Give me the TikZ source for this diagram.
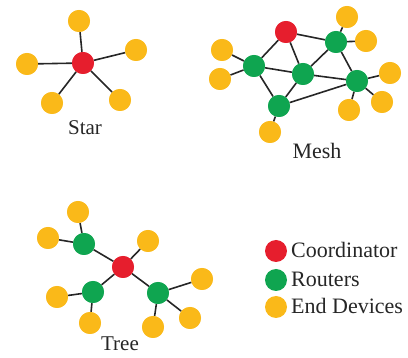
\documentclass[tikz,border=0pt]{standalone}
\usepackage{fontspec}
\setmainfont{Liberation Serif}
\definecolor{cred}{RGB}{230,30,45}
\definecolor{cgreen}{RGB}{15,165,80}
\definecolor{cyellow}{RGB}{250,185,25}
\begin{document}
\begin{tikzpicture}[x=1pt,y=-1pt,
  dev/.style={circle,fill=#1,minimum size=22pt,inner sep=0pt},
  coord/.style={dev=cred},
  rout/.style={dev=cgreen},
  endd/.style={dev=cyellow},
  lnk/.style={line width=1.6pt,black!85},
  lbl/.style={font=\fontsize{22}{24}\selectfont,inner sep=0pt,text=black!85}]
\useasboundingbox (0,0) rectangle (408,358);
% Star
\node[coord] (sc) at (83,63) {};
\node[endd] (s1) at (79,21) {};
\node[endd] (s2) at (136,50) {};
\node[endd] (s3) at (27,64) {};
\node[endd] (s4) at (52,103) {};
\node[endd] (s5) at (120,100) {};
\foreach \n in {s1,s2,s3,s4,s5} \draw[lnk] (sc) -- (\n);
\node[coord] at (sc) {};
\foreach \n in {s1,s2,s3,s4,s5} \node[endd] at (\n) {};
\node[lbl,font=\fontsize{21}{23}\selectfont] (st) at (85,128) {Star};
% Mesh
\node[coord] (mc) at (286,32) {};
\node[rout] (m1) at (336,42) {};
\node[rout] (m2) at (254,66) {};
\node[rout] (m3) at (303,74) {};
\node[rout] (m4) at (357,81) {};
\node[rout] (m5) at (279,106) {};
\node[endd] (e1) at (347,17) {};
\node[endd] (e2) at (366,41) {};
\node[endd] (e3) at (222,50) {};
\node[endd] (e4) at (220,79) {};
\node[endd] (e5) at (390,73) {};
\node[endd] (e6) at (382,102) {};
\node[endd] (e7) at (349,110) {};
\node[endd] (e8) at (270,132) {};
\foreach \a/\b in {mc/m1,mc/m2,mc/m3,m1/m3,m1/m4,m2/m3,m2/m5,m3/m5,m3/m4,m5/m4,
  m1/e1,m1/e2,m2/e3,m2/e4,m4/e5,m4/e6,m4/e7,m5/e8} \draw[lnk] (\a) -- (\b);
\node[coord] at (mc) {};
\foreach \n in {m1,m2,m3,m4,m5} \node[rout] at (\n) {};
\foreach \n in {e1,e2,e3,e4,e5,e6,e7,e8} \node[endd] at (\n) {};
\node[lbl] (mt) at (317,151) {Mesh};
% Tree
\node[coord] (tc) at (123,267) {};
\node[rout] (t1) at (84,244) {};
\node[rout] (t2) at (93,292) {};
\node[rout] (t3) at (158,293) {};
\node[endd] (y1) at (78,212) {};
\node[endd] (y2) at (48,238) {};
\node[endd] (y3) at (148,241) {};
\node[endd] (y4) at (57,297) {};
\node[endd] (y5) at (90,323) {};
\node[endd] (y6) at (202,279) {};
\node[endd] (y7) at (190,318) {};
\node[endd] (y8) at (153,327) {};
\foreach \a/\b in {tc/t1,tc/t2,tc/t3,tc/y3,t1/y1,t1/y2,t2/y4,t2/y5,t3/y6,t3/y7,t3/y8}
  \draw[lnk] (\a) -- (\b);
\node[coord] at (tc) {};
\foreach \n in {t1,t2,t3} \node[rout] at (\n) {};
\foreach \n in {y1,y2,y3,y4,y5,y6,y7,y8} \node[endd] at (\n) {};
\node[lbl,font=\fontsize{21}{23}\selectfont] (tt) at (120,344) {Tree};
% Legend
\node[coord] (lc) at (276,251) {};
\node[rout] (lr) at (276,280) {};
\node[endd] (le) at (276,307) {};
\node[lbl,anchor=west] at (291,250) {Coordinator};
\node[lbl,anchor=west] at (291,279) {Routers};
\node[lbl,anchor=west] at (291,306) {End Devices};
\end{tikzpicture}
\end{document}
